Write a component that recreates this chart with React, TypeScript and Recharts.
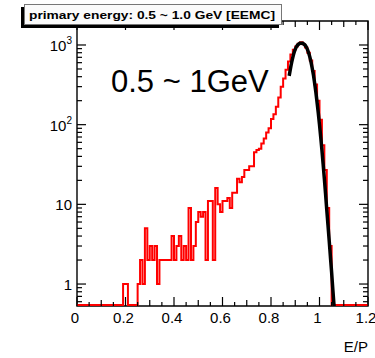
import { ComposedChart, Line, XAxis, YAxis, ReferenceArea } from "recharts"

// E/P histogram, 0.01 wide bins from 0 to 1.2
const BIN_WIDTH = 0.01
const RED_COUNTS = [
  0, 0, 0, 0, 0, 0, 0, 0, 0, 0,
  0, 0, 0, 0, 0, 0, 0, 0, 0, 1,
  1, 0, 0, 0, 0, 1, 2, 1, 5, 2,
  3, 2, 3, 1, 2, 2, 2, 2, 2, 4,
  2, 3, 4, 2, 3, 2, 9, 2, 3, 6,
  8, 7, 8, 2, 11, 11, 2, 16, 10, 8,
  11, 11, 12, 9, 14, 14, 21, 19, 22, 27,
  27, 30, 30, 45, 48, 50, 58, 67, 80, 90,
  118, 135, 168, 220, 300, 380, 490, 620, 760, 870,
  960, 1040, 1080, 1020, 930, 800, 640, 470, 320, 200,
  115, 55, 27, 9, 3, 0, 0, 0, 0, 0,
  0, 0, 0, 0, 0, 0, 0, 0, 0, 0,
]

// fit curve
const FIT_X = [
  0.875, 0.88, 0.885, 0.89, 0.895, 0.9, 0.905, 0.91, 0.915, 0.92, 0.925, 0.93, 0.935,
  0.94, 0.945, 0.95, 0.955, 0.96, 0.965, 0.97, 0.975, 0.98, 0.985, 0.99, 0.995, 1.0,
  1.005, 1.01, 1.015, 1.02, 1.025, 1.03, 1.035, 1.04, 1.045, 1.05, 1.055, 1.06,
]
const FIT_Y = [
  410, 500, 600, 700, 800, 880, 950, 1000, 1030, 1050, 1055, 1050, 1030,
  1000, 950, 880, 800, 710, 610, 510, 420, 330, 255, 190, 140, 100,
  70, 48, 32, 21, 13.5, 8.5, 5.5, 3.5, 2.2, 1.4, 0.85, 0.53,
]

const X_TICKS = [
  0, 0.05, 0.1, 0.15, 0.2, 0.25, 0.3, 0.35, 0.4, 0.45, 0.5, 0.55, 0.6,
  0.65, 0.7, 0.75, 0.8, 0.85, 0.9, 0.95, 1, 1.05, 1.1, 1.15, 1.2,
]
const X_LABELS: Record<string, string> = {
  "0": "0", "0.2": "0.2", "0.4": "0.4", "0.6": "0.6", "0.8": "0.8", "1": "1", "1.2": "1.2",
}
const Y_TICKS = [
  0.6, 0.7, 0.8, 0.9, 1, 2, 3, 4, 5, 6, 7, 8, 9, 10, 20, 30, 40, 50, 60, 70, 80, 90,
  100, 200, 300, 400, 500, 600, 700, 800, 900, 1000,
]
const Y_LABELS: Record<string, [string, string]> = {
  "1": ["1", ""], "10": ["10", ""], "100": ["10", "2"], "1000": ["10", "3"],
}

const Y_MIN = 0.53
const Y_MAX = 2000
const X_MAX = 1.2
// empty bins sit on the bottom edge, just above the frame line
const EMPTY_LEVEL = 0.545

const W = 375
const H = 358
const PLOT_LEFT = 77
const PLOT_RIGHT = 368
const PLOT_TOP = 21
const PLOT_BOTTOM = 306
const FONT = "'Liberation Sans', Arial, Helvetica, sans-serif"

const redData = RED_COUNTS.map((c, i) => ({ x: +(i * BIN_WIDTH).toFixed(2), y: c > 0 ? c : EMPTY_LEVEL }))
redData.push({ x: X_MAX, y: redData[redData.length - 1].y })

const fitData = FIT_X.map((x, i) => ({ x, y: FIT_Y[i] }))

function XTick(props: any) {
  const { x, payload } = props
  const key = String(payload.value)
  const label = X_LABELS[key]
  const major = label !== undefined
  const mid = !major && Math.abs((payload.value * 10) % 1) < 1e-6
  const len = major ? 9 : mid ? 6 : 4
  return (
    <g>
      <line x1={x} x2={x} y1={PLOT_BOTTOM} y2={PLOT_BOTTOM - len} stroke="#000" strokeWidth={1.2} />
      <line x1={x} x2={x} y1={PLOT_TOP} y2={PLOT_TOP + len} stroke="#000" strokeWidth={1.2} />
      {major && (
        <text x={x - 2} y={PLOT_BOTTOM + 17} textAnchor="middle" fontSize={15} fontFamily={FONT} fill="#000">
          {label}
        </text>
      )}
    </g>
  )
}

function YTick(props: any) {
  const { y, payload } = props
  const lab = Y_LABELS[String(payload.value)]
  const len = lab ? 9 : 5
  return (
    <g>
      <line x1={PLOT_LEFT} x2={PLOT_LEFT + len} y1={y} y2={y} stroke="#000" strokeWidth={1.2} />
      <line x1={PLOT_RIGHT} x2={PLOT_RIGHT - len} y1={y} y2={y} stroke="#000" strokeWidth={1.2} />
      {lab && (
        <text x={72} y={y + 6} textAnchor="end" fontSize={15} fontFamily={FONT} fill="#000">
          {lab[0]}
          {lab[1] && (
            <tspan dy={-7} fontSize={10}>
              {lab[1]}
            </tspan>
          )}
        </text>
      )}
    </g>
  )
}

export default function App() {
  return (
    <div style={{ position: "absolute", left: 0, top: 0, width: W, height: H, background: "#fff" }}>
      <ComposedChart width={W} height={H} margin={{ top: PLOT_TOP, right: W - PLOT_RIGHT, left: 0, bottom: 0 }}>
        <XAxis
          dataKey="x"
          type="number"
          domain={[0, X_MAX]}
          ticks={X_TICKS}
          interval={0}
          allowDataOverflow
          height={H - PLOT_BOTTOM}
          axisLine={false}
          tickLine={false}
          tick={<XTick />}
        />
        <YAxis
          type="number"
          scale="log"
          domain={[Y_MIN, Y_MAX]}
          ticks={Y_TICKS}
          interval={0}
          allowDataOverflow
          width={PLOT_LEFT}
          axisLine={false}
          tickLine={false}
          tick={<YTick />}
        />
        <ReferenceArea x1={0} x2={X_MAX} y1={Y_MIN} y2={Y_MAX} fill="none" stroke="#000" strokeWidth={1.4} />
        <Line
          data={redData}
          dataKey="y"
          type="stepAfter"
          stroke="#ff0000"
          strokeWidth={2}
          dot={false}
          isAnimationActive={false}
        />
        <Line
          data={fitData}
          dataKey="y"
          type="monotone"
          stroke="#000"
          strokeWidth={3.5}
          dot={false}
          isAnimationActive={false}
        />
      </ComposedChart>

      {/* title box with shadow */}
      <div style={{ position: "absolute", left: 21, top: 7, width: 258, height: 21, background: "#000" }} />
      <div
        style={{
          position: "absolute",
          left: 24,
          top: 4,
          width: 256,
          height: 19,
          background: "#fbfbfb",
          border: "1px solid #777",
        }}
      >
        <svg width={256} height={19} style={{ display: "block" }}>
          <text x={4} y={14} fontSize={11.5} fontWeight="bold" fontFamily={FONT} textLength={246} lengthAdjust="spacingAndGlyphs">
            primary energy: 0.5 ~ 1.0 GeV [EEMC]
          </text>
        </svg>
      </div>

      <div
        style={{
          position: "absolute",
          left: 111,
          top: 64,
          fontFamily: FONT,
          fontSize: 31,
          lineHeight: "36px",
          color: "#000",
          whiteSpace: "nowrap",
        }}
      >
        0.5 ~ 1GeV
      </div>

      <div
        style={{
          position: "absolute",
          right: W - PLOT_RIGHT,
          top: 338,
          fontFamily: FONT,
          fontSize: 15,
          lineHeight: "18px",
          color: "#000",
        }}
      >
        E/P
      </div>
    </div>
  )
}
